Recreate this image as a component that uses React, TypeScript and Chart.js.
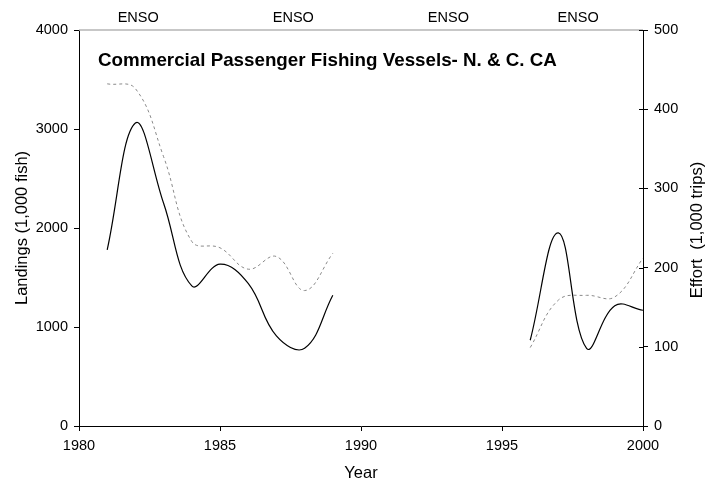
import React, { useEffect, useRef } from "react";
import { Chart, registerables } from "chart.js";

Chart.register(...registerables);

const years = [1981, 1982, 1983, 1984, 1985, 1986, 1987, 1988, 1989, 1990, 1991, 1992, 1993, 1994, 1995, 1996, 1997, 1998, 1999, 2000];
const landings = [1780, 3060, 2250, 1415, 1635, 1440, 910, 785, 1320, null, null, null, null, null, null, 866, 1950, 785, 1215, 1169];
const effort = [432, 426, 340, 233, 225, 198, 214, 171, 218, null, null, null, null, null, null, 99, 159, 165, 163, 212];

const xTicks = [1980, 1985, 1990, 1995, 2000];
const landingsTicks = [0, 1000, 2000, 3000, 4000];
const effortTicks = [0, 100, 200, 300, 400, 500];
const ensoYears = [1982.1, 1987.6, 1993.1, 1997.7];
const ensoLabel = "ENSO";
const chartTitle = "Commercial Passenger Fishing Vessels- N. & C. CA";
const xTitle = "Year";
const leftTitle = "Landings (1,000 fish)";
const rightTitle = "Effort  (1,000 trips)";

const FONT = '"Liberation Sans", Arial, Helvetica, sans-serif';

const decorPlugin = {
  id: "decor",
  afterDraw(chart: any) {
    const { ctx, chartArea, scales } = chart;
    const x = scales.x;
    const yr = scales.y1;
    ctx.save();
    // top gray frame line
    ctx.strokeStyle = "#b4b4b4";
    ctx.lineWidth = 1.5;
    ctx.beginPath();
    ctx.moveTo(chartArea.left, chartArea.top);
    ctx.lineTo(chartArea.right, chartArea.top);
    ctx.stroke();
    // inner ticks on right axis
    ctx.strokeStyle = "#000";
    ctx.lineWidth = 1;
    effortTicks.forEach((v) => {
      const py = Math.round(yr.getPixelForValue(v)) + 0.5;
      ctx.beginPath();
      ctx.moveTo(chartArea.right - 4, py);
      ctx.lineTo(chartArea.right, py);
      ctx.stroke();
    });
    ctx.fillStyle = "#000";
    // ENSO labels
    ctx.font = `14.5px ${FONT}`;
    ctx.textAlign = "center";
    ctx.textBaseline = "middle";
    ensoYears.forEach((yv) => {
      ctx.fillText(ensoLabel, x.getPixelForValue(yv), 18);
    });
    // title
    ctx.font = `bold 17px ${FONT}`;
    const w = ctx.measureText(chartTitle).width;
    const size = 17 * 459 / w;
    ctx.font = `bold ${size.toFixed(2)}px ${FONT}`;
    ctx.textAlign = "left";
    ctx.fillText(chartTitle, 98, 61);
    // axis titles
    ctx.font = `16.5px ${FONT}`;
    ctx.textAlign = "center";
    ctx.fillText(xTitle, (chartArea.left + chartArea.right) / 2, 473);
    const cy = (chartArea.top + chartArea.bottom) / 2;
    ctx.save();
    ctx.translate(22, cy);
    ctx.rotate(-Math.PI / 2);
    ctx.fillText(leftTitle, 0, 0);
    ctx.restore();
    ctx.save();
    ctx.translate(697, cy + 2);
    ctx.rotate(-Math.PI / 2);
    ctx.fillText(rightTitle, 0, 0);
    ctx.restore();
    ctx.restore();
  },
};

export default function App() {
  const ref = useRef<HTMLCanvasElement | null>(null);
  useEffect(() => {
    document.body.style.margin = "0";
    const canvas = ref.current!;
    const tickFont = { family: FONT, size: 14.5 };
    const chart = new Chart(canvas, {
      type: "line",
      data: {
        datasets: [
          {
            label: "Landings",
            data: years.map((yv, i) => ({ x: yv, y: landings[i] })),
            yAxisID: "y",
            borderColor: "#000",
            borderWidth: 1.2,
            pointRadius: 0,
            tension: 0.4,
            spanGaps: false,
            fill: false,
          },
          {
            label: "Effort",
            data: years.map((yv, i) => ({ x: yv, y: effort[i] })),
            yAxisID: "y1",
            borderColor: "#8a8a8a",
            borderWidth: 1,
            borderDash: [3, 3],
            pointRadius: 0,
            tension: 0.4,
            spanGaps: false,
            fill: false,
          },
        ],
      },
      options: {
        responsive: false,
        animation: false,
        layout: { padding: { top: 30, left: 0, right: 0, bottom: 0 } },
        plugins: { legend: { display: false }, tooltip: { enabled: false }, title: { display: false } },
        scales: {
          x: {
            type: "linear",
            position: "bottom",
            min: xTicks[0],
            max: xTicks[xTicks.length - 1],
            afterBuildTicks: (s: any) => { s.ticks = xTicks.map((v) => ({ value: v })); },
            afterFit: (s: any) => { s.height = 56; },
            border: { color: "#000", width: 1 },
            grid: { drawOnChartArea: false, tickLength: 5, color: "#000", tickColor: "#000" },
            ticks: { font: tickFont, color: "#000", padding: 6, maxRotation: 0, callback: (v: any) => String(v) },
          },
          y: {
            type: "linear",
            position: "left",
            min: landingsTicks[0],
            max: landingsTicks[landingsTicks.length - 1],
            afterBuildTicks: (s: any) => { s.ticks = landingsTicks.map((v) => ({ value: v })); },
            afterFit: (s: any) => { s.width = 79; },
            border: { color: "#000", width: 1 },
            grid: { drawOnChartArea: false, tickLength: 5, color: "#000", tickColor: "#000" },
            ticks: { font: tickFont, color: "#000", padding: 6, callback: (v: any) => String(v) },
          },
          y1: {
            type: "linear",
            position: "right",
            min: effortTicks[0],
            max: effortTicks[effortTicks.length - 1],
            afterBuildTicks: (s: any) => { s.ticks = effortTicks.map((v) => ({ value: v })); },
            afterFit: (s: any) => { s.width = 70; },
            border: { color: "#000", width: 1 },
            grid: { drawOnChartArea: false, tickLength: 5, color: "#000", tickColor: "#000" },
            ticks: { font: tickFont, color: "#000", padding: 6, callback: (v: any) => String(v) },
          },
        },
      },
      plugins: [decorPlugin],
    } as any);
    return () => chart.destroy();
  }, []);
  return (
    <div style={{ width: 713, height: 482, background: "#fff" }}>
      <canvas ref={ref} width={713} height={482} style={{ display: "block" }} />
    </div>
  );
}
